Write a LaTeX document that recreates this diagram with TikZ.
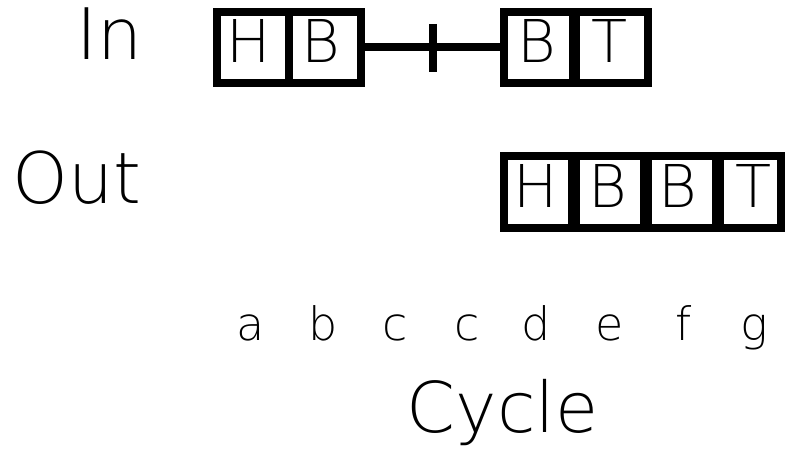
\documentclass[tikz,border=0pt]{standalone}
\usepackage{fontspec}
\setmainfont{DejaVu Sans ExtraLight}
\begin{document}
\begin{tikzpicture}[x=1pt,y=-1pt,
  regbox/.style={draw=black,line width=8pt,inner sep=0pt,outer sep=0pt,rectangle,fill=white},
  divider/.style={line width=#1},
  cell/.style={anchor=base,inner sep=0pt,font=\fontsize{59}{59}\selectfont},
  rowlabel/.style={anchor=base west,inner sep=0pt,font=\fontsize{71}{71}\selectfont},
  cyc/.style={anchor=base,inner sep=0pt,font=\fontsize{46}{46}\selectfont},
  wire/.style={line width=8pt}]
\useasboundingbox (0,0) rectangle (786,449);
% boxes
\node[regbox,minimum width=144pt,minimum height=71pt] (inL) at (289,47.5) {};
\node[regbox,minimum width=144pt,minimum height=71pt] (inR) at (576,47.5) {};
\node[regbox,minimum width=277pt,minimum height=72pt] (out) at (642.5,192) {};
% connector with tick
\draw[wire] (inL.east) -- (inR.west);
\coordinate (tickT) at (432.5,24);
\coordinate (tickB) at (432.5,72);
\draw[wire] (tickT) -- (tickB);
% dividers
\draw[divider=8pt] (inL.north) -- (inL.south);
\draw[divider=11pt] ([xshift=-2pt]inR.north) -- ([xshift=-2pt]inR.south);
\draw[divider=12pt] ([xshift=-68.5pt]out.north) -- ([xshift=-68.5pt]out.south);
\draw[divider=12pt] ([xshift=3.5pt]out.north) -- ([xshift=3.5pt]out.south);
\draw[divider=12pt] ([xshift=75.5pt]out.north) -- ([xshift=75.5pt]out.south);
% cell letters
\node[cell] (c1) at (249,63) {H};
\node[cell] (c2) at (321,63) {B};
\node[cell] (c3) at (537,63) {B};
\node[cell] (c4) at (609.5,63) {T};
\node[cell] (o1) at (536,207) {H};
\node[cell] (o2) at (607.5,207) {B};
\node[cell] (o3) at (678,207) {B};
\node[cell] (o4) at (753.5,207) {T};
% row labels
\node[rowlabel] (lin) at (76,60) {In};
\node[rowlabel] (lout) at (12,203) {Out};
% cycle letters
\node[cyc] (ca) at (251,340) {a};
\node[cyc] (cb) at (323,340) {b};
\node[cyc] (cc1) at (395,340) {c};
\node[cyc] (cc2) at (467,340) {c};
\node[cyc] (cd) at (536,340) {d};
\node[cyc] (ce) at (610,340) {e};
\node[cyc] (cf) at (684,340) {f};
\node[cyc] (cg) at (754,340) {g};
\node[rowlabel,anchor=base,font=\fontsize{70}{70}\selectfont] (cycle) at (502.5,432) {Cycle};
\end{tikzpicture}
\end{document}
